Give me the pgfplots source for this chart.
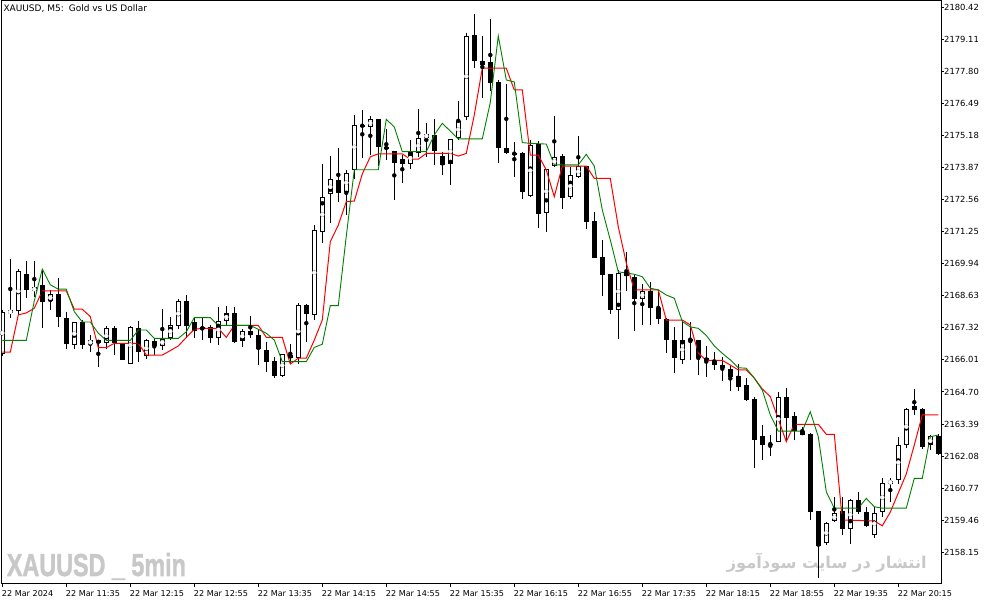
\documentclass[border=0pt]{standalone}
\usepackage{fontspec}
\setmainfont{DejaVu Sans}
\newfontfamily\arabicfont[Script=Arabic]{DejaVu Sans}
\newfontfamily\wmfont[FakeBold=1.6]{Liberation Sans}
\usepackage{pgfplots}
\usepackage{pgfplotstable}
\pgfplotsset{compat=1.18}
\TeXXeTstate=1

\definecolor{mtgreen}{RGB}{0,128,0}
\definecolor{wmgray}{RGB}{200,200,200}

% bullish candles (close > open): k open high low close
\pgfplotstableread{
k o h l c
0 2166.25 2168.05 2166.17 2167.98
1 2167.93 2170.13 2167.72 2168.01
2 2168.02 2169.73 2167.85 2169.64
4 2168.83 2170.05 2168.59 2168.98
6 2168.42 2168.87 2168.05 2168.69
9 2166.62 2167.57 2166.46 2167.55
11 2166.65 2167.03 2166.32 2166.82
13 2166.69 2167.40 2166.48 2167.30
16 2165.87 2167.40 2165.87 2167.37
18 2166.18 2166.89 2166.08 2166.82
20 2166.59 2168.12 2166.44 2166.89
21 2166.92 2167.75 2166.82 2167.44
22 2167.37 2168.50 2167.27 2168.42
27 2166.89 2168.18 2166.65 2167.60
28 2167.61 2168.21 2167.44 2167.91
30 2166.78 2167.26 2166.53 2167.19
35 2165.35 2166.28 2165.32 2166.24
37 2166.10 2168.35 2165.87 2168.25
39 2167.85 2171.52 2167.64 2171.32
40 2171.25 2174.02 2170.80 2172.68
41 2172.78 2174.34 2171.59 2173.39
43 2172.88 2173.77 2171.93 2173.64
44 2173.80 2176.02 2173.43 2175.64
46 2175.54 2175.98 2174.38 2175.84
51 2174.02 2175.00 2173.84 2174.52
52 2174.45 2176.26 2174.31 2175.07
53 2175.07 2175.70 2174.31 2175.27
56 2174.04 2175.07 2173.16 2175.03
57 2175.07 2176.59 2175.00 2175.77
58 2175.95 2179.38 2175.81 2179.25
66 2172.72 2175.00 2172.68 2174.79
68 2172.00 2173.84 2171.25 2173.80
69 2173.95 2175.98 2173.91 2174.29
71 2172.66 2173.91 2172.61 2173.57
72 2173.50 2175.16 2173.43 2173.93
77 2168.05 2169.68 2166.86 2169.57
80 2168.49 2169.14 2167.46 2168.83
85 2166.03 2167.64 2165.84 2166.85
97 2162.67 2164.69 2162.67 2164.51
103 2158.52 2159.40 2158.45 2159.36
104 2159.43 2160.42 2159.40 2159.74
106 2159.09 2160.35 2158.52 2160.29
109 2158.88 2160.01 2158.72 2159.78
110 2159.81 2161.17 2159.60 2160.99
111 2160.99 2161.17 2160.22 2161.06
112 2161.10 2162.87 2160.93 2162.56
113 2162.56 2164.03 2162.40 2164.03
116 2162.53 2162.94 2162.33 2162.90
}\upbars

% bearish candles and dojis
\pgfplotstableread{
k o h l c
3 2169.55 2170.05 2168.53 2168.87
5 2169.07 2169.68 2167.30 2168.39
7 2168.69 2169.35 2167.37 2167.78
8 2167.75 2167.98 2166.46 2166.65
10 2167.55 2167.64 2166.46 2166.62
12 2166.82 2166.82 2165.71 2166.69
14 2167.30 2167.40 2166.24 2166.69
15 2166.69 2166.70 2166.01 2166.03
17 2167.33 2167.60 2165.91 2166.35
19 2166.78 2166.92 2166.21 2166.59
23 2168.42 2168.66 2166.92 2167.37
24 2167.55 2167.74 2166.92 2167.19
25 2167.34 2167.78 2166.82 2167.26
26 2167.34 2167.46 2166.71 2166.89
29 2167.91 2168.18 2166.69 2166.75
31 2167.19 2167.80 2166.89 2167.02
32 2167.03 2167.23 2165.80 2166.44
33 2166.44 2166.75 2165.53 2165.94
34 2165.97 2166.14 2165.26 2165.35
36 2166.24 2166.65 2165.87 2166.08
38 2168.25 2168.30 2166.75 2167.87
42 2173.39 2174.66 2172.48 2172.86
45 2175.61 2176.22 2174.25 2175.56
47 2175.84 2175.84 2173.93 2174.72
48 2174.72 2175.47 2174.18 2174.62
49 2174.55 2174.55 2172.57 2174.07
50 2174.22 2174.38 2173.23 2174.04
54 2175.20 2175.88 2174.00 2174.56
55 2174.34 2174.52 2173.57 2174.00
59 2179.29 2180.15 2177.93 2178.23
60 2178.23 2179.25 2176.73 2178.09
61 2178.18 2179.94 2177.01 2177.34
62 2177.38 2177.45 2174.07 2174.66
63 2174.66 2177.29 2174.43 2174.48
64 2174.45 2174.93 2173.50 2174.45
65 2174.49 2174.52 2172.57 2172.88
67 2174.83 2174.97 2171.39 2172.00
70 2174.34 2174.41 2172.18 2172.64
73 2173.93 2173.93 2171.35 2171.66
74 2171.70 2172.05 2170.17 2170.19
75 2170.23 2170.91 2168.63 2169.48
76 2169.52 2169.52 2167.91 2168.05
78 2169.59 2170.43 2168.84 2169.44
79 2169.41 2169.48 2167.19 2168.49
81 2168.83 2169.21 2167.46 2168.12
82 2168.16 2168.80 2167.48 2167.71
83 2167.71 2167.71 2166.28 2166.82
84 2166.82 2167.37 2165.49 2166.08
86 2166.85 2167.57 2166.01 2166.85
87 2166.82 2166.82 2165.39 2166.08
88 2166.11 2166.57 2165.31 2165.97
89 2165.97 2166.33 2165.60 2165.79
90 2165.80 2166.14 2165.16 2165.67
91 2165.64 2165.77 2164.75 2165.32
92 2165.35 2165.84 2164.75 2164.92
93 2164.98 2165.26 2164.34 2164.37
94 2164.41 2164.51 2161.58 2162.74
95 2162.90 2163.35 2161.92 2162.53
96 2162.57 2162.94 2162.08 2162.57
98 2164.51 2164.89 2162.74 2163.65
99 2163.73 2163.89 2162.74 2163.12
100 2163.10 2163.28 2162.94 2162.97
101 2162.98 2163.04 2159.47 2159.81
102 2159.84 2159.84 2157.09 2158.41
105 2159.85 2160.42 2158.86 2159.09
107 2160.29 2160.62 2159.74 2159.78
108 2159.78 2160.01 2159.19 2159.22
114 2164.13 2164.81 2163.76 2163.99
115 2163.99 2164.07 2162.40 2162.44
117 2162.91 2162.98 2162.12 2162.19
}\downbars

% red indicator
\pgfplotstableread{
k p
0 2166.33
1 2166.33
2 2167.85
3 2167.93
4 2168.12
5 2168.83
8 2168.83
9 2168.08
10 2168.08
11 2167.78
12 2166.51
13 2166.51
14 2166.69
17 2166.69
18 2166.21
20 2166.21
21 2166.39
22 2166.58
23 2166.93
24 2167.26
25 2167.30
27 2167.30
28 2166.93
29 2167.42
32 2167.42
33 2166.93
35 2166.93
36 2165.84
37 2166.08
38 2166.08
39 2166.82
40 2167.64
41 2170.84
42 2171.52
43 2172.48
44 2172.50
45 2173.61
46 2174.31
47 2174.43
50 2174.43
51 2174.21
52 2174.21
53 2174.45
56 2174.45
57 2174.34
58 2174.45
59 2176.02
60 2177.93
63 2177.93
64 2177.04
65 2177.04
66 2174.38
67 2174.38
68 2173.77
69 2172.68
70 2173.93
73 2173.93
74 2173.43
76 2173.43
77 2171.45
78 2169.97
79 2168.87
82 2168.87
83 2167.64
85 2167.64
86 2167.44
87 2166.29
88 2165.99
90 2165.99
91 2165.80
92 2165.60
93 2165.60
94 2165.27
95 2164.82
96 2164.51
98 2162.67
99 2163.38
102 2163.38
103 2162.97
104 2162.97
105 2159.47
109 2159.43
110 2159.23
111 2159.79
112 2160.57
113 2161.35
114 2162.53
115 2163.76
117 2163.76
}\redline

% green indicator
\pgfplotstableread{
k p
0 2166.81
3 2166.81
4 2168.42
5 2169.72
6 2169.08
7 2168.90
8 2168.90
9 2167.98
10 2167.56
11 2167.56
12 2167.10
13 2166.81
16 2166.81
17 2167.23
18 2167.23
19 2166.89
22 2166.89
23 2167.16
24 2167.74
26 2167.74
27 2167.42
31 2167.42
32 2167.26
33 2167.10
34 2166.82
35 2165.94
38 2165.94
39 2166.52
40 2166.65
41 2168.23
42 2168.23
43 2171.07
44 2173.78
47 2173.78
48 2175.84
49 2175.53
50 2174.52
53 2174.52
54 2175.20
55 2175.68
56 2175.36
57 2175.04
60 2175.04
61 2176.53
62 2179.25
63 2177.45
64 2177.37
65 2174.89
66 2174.86
68 2174.83
69 2173.98
72 2173.98
73 2174.41
74 2173.93
75 2172.14
76 2170.91
77 2169.61
79 2169.51
80 2169.41
81 2168.94
82 2168.87
83 2168.66
84 2168.53
85 2167.58
86 2167.36
87 2167.30
88 2167.01
89 2166.58
90 2166.28
91 2166.01
92 2165.69
93 2165.67
94 2165.26
95 2164.78
96 2163.76
97 2163.10
100 2163.10
101 2163.89
102 2162.87
103 2160.62
104 2159.95
107 2159.95
108 2160.35
109 2160.01
110 2159.95
113 2159.95
114 2161.17
115 2161.17
116 2162.87
117 2162.94
}\greenline

% a candle part drawn as a vertical error bar: colour, line width
\pgfplotsset{
  bar/.style 2 args={only marks, mark=none, #1,
    error bars/.cd, y dir=both, y explicit, error mark=none,
    error bar style={line width=#2}},
}

\begin{document}
\begin{tikzpicture}
\path[use as bounding box] (-2pt,-21pt) rectangle (992pt,584pt);

% watermarks behind the chart
\node[anchor=base west, inner sep=0pt, text=wmgray] at (4.7pt,8pt)
  {\resizebox{179pt}{23pt}{\wmfont\bfseries XAUUSD \_ 5min}};
\node[anchor=base east, inner sep=0pt, text=wmgray] at (925pt,15pt)
  {\resizebox{200pt}{!}{\arabicfont\bfseries\beginR انتشار در سایت سودآموز\endR}};

\begin{axis}[
  at={(0,0)}, anchor=south west,
  scale only axis, width=939pt, height=583pt,
  xmin=-0.0375, xmax=117.34,
  ymin=2156.852, ymax=2180.677,
  axis line style={black, line width=1pt},
  tick style={black, line width=1pt},
  tick align=outside, major tick length=3pt,
  xtick pos=left, ytick pos=right, yticklabel pos=right,
  xtick={0,8,...,112},
  xticklabels={22 Mar 2024,22 Mar 11:35,22 Mar 12:15,22 Mar 12:55,22 Mar 13:35,
    22 Mar 14:15,22 Mar 14:55,22 Mar 15:35,22 Mar 16:15,22 Mar 16:55,22 Mar 17:35,
    22 Mar 18:15,22 Mar 18:55,22 Mar 19:35,22 Mar 20:15},
  ytick={2158.15,2159.46,2160.77,2162.08,2163.39,2164.70,2166.01,2167.32,2168.63,
    2169.94,2171.25,2172.56,2173.87,2175.18,2176.49,2177.80,2179.11,2180.42},
  yticklabels={2158.15,2159.46,2160.77,2162.08,2163.39,2164.70,2166.01,2167.32,2168.63,
    2169.94,2171.25,2172.56,2173.87,2175.18,2176.49,2177.80,2179.11,2180.42},
  xticklabel style={font=\fontsize{8.1}{10}\selectfont, anchor=north west,
    inner sep=0pt, xshift=-0.6pt, yshift=-3pt},
  yticklabel style={font=\fontsize{8.4}{10}\selectfont, anchor=west, inner sep=0pt},
]
% wicks
\addplot[bar={black}{1pt}]
  table[x=k, y expr={(\thisrow{h}+\thisrow{l})/2}, y error expr={(\thisrow{h}-\thisrow{l})/2}] {\upbars};
\addplot[bar={black}{1pt}]
  table[x=k, y expr={(\thisrow{h}+\thisrow{l})/2}, y error expr={(\thisrow{h}-\thisrow{l})/2}] {\downbars};
% bodies: black ones, then outlined white ones (at least 3px tall)
\addplot[bar={black}{5pt}]
  table[x=k, y expr={(\thisrow{o}+\thisrow{c})/2}, y error expr={max(abs(\thisrow{c}-\thisrow{o})/2,0.02)}] {\downbars};
\addplot[bar={black}{5pt}]
  table[x=k, y expr={(\thisrow{o}+\thisrow{c})/2}, y error expr={max(abs(\thisrow{c}-\thisrow{o})/2,0.062)}] {\upbars};
\addplot[bar={white}{3pt}]
  table[x=k, y expr={(\thisrow{o}+\thisrow{c})/2}, y error expr={max((\thisrow{c}-\thisrow{o})/2-0.041,0.021)}] {\upbars};
% indicator lines
\addplot[red, line width=1pt] table[x=k, y=p] {\redline};
\addplot[mtgreen, line width=0.9pt] table[x=k, y=p] {\greenline};
\end{axis}

\node[anchor=north west, inner sep=0pt, font=\fontsize{9}{11}\selectfont]
  at (1.3pt,580pt) {XAUUSD, M5:\hspace{0.55em}Gold vs US Dollar};
\end{tikzpicture}
\end{document}
